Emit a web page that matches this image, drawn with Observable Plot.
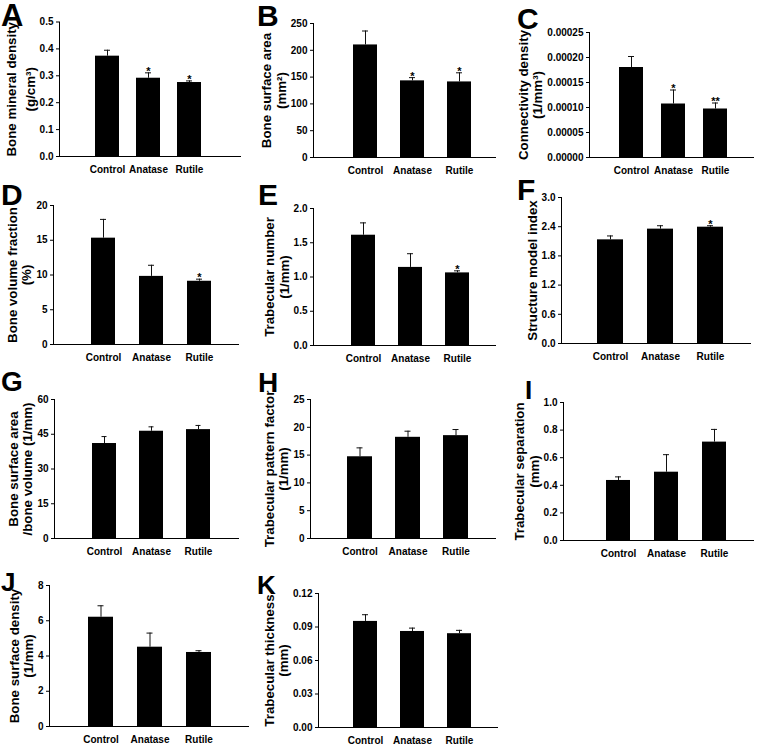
<!DOCTYPE html>
<html><head><meta charset="utf-8">
<script src="https://cdn.jsdelivr.net/npm/d3@7"></script>
<script src="https://cdn.jsdelivr.net/npm/@observablehq/plot@0.6"></script>
<style>
body{margin:0;background:#fff;}
#fig{position:relative;width:764px;height:750px;font-family:"Liberation Sans",Arial,sans-serif;background:#fff;overflow:hidden;}
.panel{position:absolute;}
.letter{position:absolute;font-weight:bold;line-height:1;color:#000;font-family:"Liberation Sans",Arial,sans-serif;}
</style></head><body><div id="fig"></div>
<script>
// ---------- data ----------
const categories = ["Control", "Anatase", "Rutile"];

const bmdMean = [0.373, 0.291, 0.275];  const bmdSE = [0.022, 0.020, 0.006];  const bmdSig = ["", "*", "*"];
const bsaMean = [210, 143, 141];        const bsaSE = [26, 6, 17];            const bsaSig = ["", "*", "*"];
const connMean = [0.000180, 0.000107, 0.000097]; const connSE = [0.000022, 0.000028, 0.000012]; const connSig = ["", "*", "**"];
const bvfMean = [15.3, 9.8, 9.1];       const bvfSE = [2.7, 1.6, 0.3];        const bvfSig = ["", "", "*"];
const tbnMean = [1.61, 1.14, 1.06];     const tbnSE = [0.18, 0.20, 0.03];     const tbnSig = ["", "", "*"];
const smiMean = [2.13, 2.35, 2.39];     const smiSE = [0.08, 0.07, 0.03];     const smiSig = ["", "", "*"];
const bsbvMean = [41.0, 46.3, 47.0];    const bsbvSE = [3.0, 1.9, 1.8];       const bsbvSig = ["", "", ""];
const tbpfMean = [14.7, 18.2, 18.5];    const tbpfSE = [1.6, 1.1, 1.1];       const tbpfSig = ["", "", ""];
const tbspMean = [0.435, 0.495, 0.713]; const tbspSE = [0.026, 0.127, 0.092]; const tbspSig = ["", "", ""];
const bsdMean = [6.2, 4.5, 4.2];        const bsdSE = [0.65, 0.8, 0.1];       const bsdSig = ["", "", ""];
const tbthMean = [0.095, 0.086, 0.084]; const tbthSE = [0.006, 0.003, 0.003]; const tbthSig = ["", "", ""];

const ticksA = [0, 0.1, 0.2, 0.3, 0.4, 0.5];
const ticksB = [0, 50, 100, 150, 200, 250];
const ticksC = [0, 0.00005, 0.0001, 0.00015, 0.0002, 0.00025];
const ticksD = [0, 5, 10, 15, 20];
const ticksE = [0, 0.5, 1.0, 1.5, 2.0];
const ticksF = [0, 0.6, 1.2, 1.8, 2.4, 3.0];
const ticksG = [0, 15, 30, 45, 60];
const ticksH = [0, 5, 10, 15, 20, 25];
const ticksI = [0, 0.2, 0.4, 0.6, 0.8, 1.0];
const ticksJ = [0, 2, 4, 6, 8];
const ticksK = [0, 0.03, 0.06, 0.09, 0.12];

const labelA = "Bone mineral density\n(g/cm³)";
const labelB = "Bone surface area\n(mm²)";
const labelC = "Connectivity density\n(1/mm³)";
const labelD = "Bone volume fraction\n(%)";
const labelE = "Trabecular number\n(1/mm)";
const labelF = "Structure model index";
const labelG = "Bone surface area\n/bone volume (1/mm)";
const labelH = "Trabecular pattern factor\n(1/mm)";
const labelI = "Trabecular separation\n(mm)";
const labelJ = "Bone surface density\n(1/mm)";
const labelK = "Trabecular thickness\n(mm)";

// ---------- layout ----------
const f = d => (v => v.toFixed(d));
const panels = [
  {letter:"A", mean:bmdMean, se:bmdSE, sig:bmdSig, ticks:ticksA, fmt:f(1), label:labelA, lh:1.4,
   box:[0,0,255,185], axisX:59, topY:21.5, zeroY:156, endX:240, centers:[107,148,189.5], bw:24, lp:[1,0,31]},
  {letter:"B", mean:bsaMean, se:bsaSE, sig:bsaSig, ticks:ticksB, fmt:f(0), label:labelB, lh:1.08,
   box:[255,0,250,185], axisX:313, topY:23, zeroY:157, endX:495, centers:[365,411,459], bw:24, lp:[257,1,30]},
  {letter:"C", mean:connMean, se:connSE, sig:connSig, ticks:ticksC, fmt:f(5), label:labelC, lh:1.08,
   box:[505,0,259,185], axisX:589, topY:32, zeroY:157, endX:753, centers:[631,673,715.5], bw:24, lp:[517,4,30]},
  {letter:"D", mean:bvfMean, se:bvfSE, sig:bvfSig, ticks:ticksD, fmt:f(0), label:labelD, lh:1.08,
   box:[0,185,255,185], axisX:53, topY:205, zeroY:344, endX:238, centers:[103,151,199.5], bw:24, lp:[1,180,30]},
  {letter:"E", mean:tbnMean, se:tbnSE, sig:tbnSig, ticks:ticksE, fmt:f(1), label:labelE, lh:1.08,
   box:[255,185,250,185], axisX:313, topY:208, zeroY:345, endX:495, centers:[362,410,457], bw:24, lp:[258,180,30]},
  {letter:"F", mean:smiMean, se:smiSE, sig:smiSig, ticks:ticksF, fmt:f(1), label:labelF, lh:1.08,
   box:[505,185,259,185], axisX:561, topY:197, zeroY:343, endX:750, centers:[609,660,710], bw:26, lp:[517,175,30]},
  {letter:"G", mean:bsbvMean, se:bsbvSE, sig:bsbvSig, ticks:ticksG, fmt:f(0), label:labelG, lh:1.08,
   box:[0,370,255,185], axisX:54, topY:399, zeroY:538, endX:238, centers:[103.5,151,199.5], bw:25, lp:[1,368,28]},
  {letter:"H", mean:tbpfMean, se:tbpfSE, sig:tbpfSig, ticks:ticksH, fmt:f(0), label:labelH, lh:1.08,
   box:[255,370,250,185], axisX:310, topY:399, zeroY:538, endX:495, centers:[359.5,408.5,456], bw:25, lp:[258,369,28]},
  {letter:"I", mean:tbspMean, se:tbspSE, sig:tbspSig, ticks:ticksI, fmt:f(1), label:labelI, lh:1.08,
   box:[505,370,259,185], axisX:563, topY:402, zeroY:540, endX:753, centers:[618,665.5,714], bw:24, lp:[525,377,26]},
  {letter:"J", mean:bsdMean, se:bsdSE, sig:bsdSig, ticks:ticksJ, fmt:f(0), label:labelJ, lh:1.08,
   box:[0,555,255,195], axisX:49, topY:585, zeroY:726, endX:248, centers:[100.5,149.5,198.5], bw:25, lp:[1,569,26]},
  {letter:"K", mean:tbthMean, se:tbthSE, sig:tbthSig, ticks:ticksK, fmt:f(2), label:labelK, lh:1.08,
   box:[255,555,250,195], axisX:318, topY:593, zeroY:727, endX:497, centers:[365,412,459], bw:24, lp:[257,572,26]}
];

const ctx = document.createElement("canvas").getContext("2d");
ctx.font = "bold 10px 'Liberation Sans'";
const measure = s => ctx.measureText(s).width;

const fig = document.getElementById("fig");

for (const p of panels) {
  const [L, T, W, H] = p.box;
  const mLeft = p.axisX - L, mTop = p.topY - T, mBottom = H - (p.zeroY - T), mRight = W - (p.endX - L);
  const step = (p.centers[2] - p.centers[0]) / 2;
  const pad = 1 - p.bw / step;
  const r0 = p.centers[0] - L - step * (1 + pad) / 2;
  const r1 = p.centers[2] - L + step * (1 + pad) / 2;
  const data = categories.map((c, i) => ({cat: c, mean: p.mean[i], top: p.mean[i] + p.se[i], sig: p.sig[i]}));
  const tickW = Math.max(...p.ticks.map(t => measure(p.fmt(t))));
  const capInset = (p.bw - 6) / 2;
  const chart = Plot.plot({
    width: W, height: H,
    marginLeft: mLeft, marginTop: mTop, marginBottom: mBottom, marginRight: mRight,
    style: {fontFamily: "'Liberation Sans', Arial, sans-serif", fontWeight: "bold", fontSize: "10px", color: "#000", background: "transparent", overflow: "visible"},
    x: {domain: categories, range: [r0, r1], padding: pad, label: null, tickSize: 0, tickPadding: 9, line: true},
    y: {domain: [p.ticks[0], p.ticks[p.ticks.length - 1]], ticks: p.ticks, tickFormat: p.fmt, tickSize: 3, tickPadding: 3, label: null, line: true},
    marks: [
      Plot.ruleX(data, {x: "cat", y1: "mean", y2: "top", stroke: "#111", strokeWidth: 1}),
      Plot.tickY(data, {x: "cat", y: "top", insetLeft: capInset, insetRight: capInset, stroke: "#111", strokeWidth: 1}),
      Plot.barY(data, {x: "cat", y: "mean", fill: "#000"}),
      Plot.text(data, {x: "cat", y: "top", text: "sig", lineAnchor: "bottom", dy: 2, fontSize: 11, fontWeight: "bold", fill: "#000"}),
      Plot.text([p.label], {frameAnchor: "left", textAnchor: "middle", rotate: -90, dx: -(tickW + 11), lineAnchor: "bottom", lineHeight: p.lh, fontSize: 13.3, fontWeight: "bold", fill: "#000"})
    ]
  });
  chart.classList.add("panel");
  chart.style.left = L + "px";
  chart.style.top = T + "px";
  fig.appendChild(chart);

  const lt = document.createElement("div");
  lt.className = "letter";
  lt.textContent = p.letter;
  lt.style.left = p.lp[0] + "px";
  lt.style.top = p.lp[1] + "px";
  lt.style.fontSize = p.lp[2] + "px";
  fig.appendChild(lt);
}
</script>
</body></html>
